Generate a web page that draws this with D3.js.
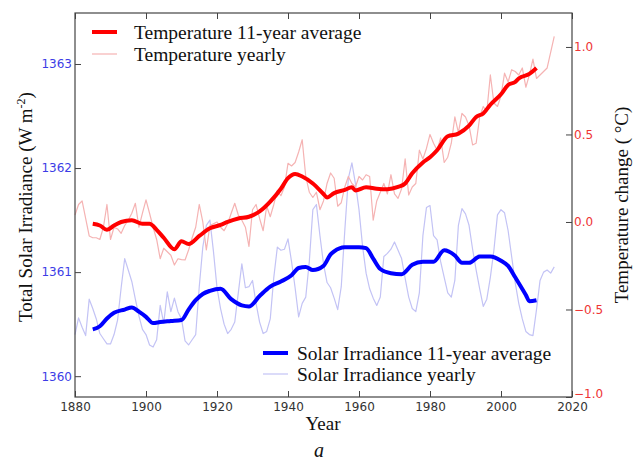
<!DOCTYPE html>
<html>
<head>
<meta charset="utf-8">
<script src="https://cdn.jsdelivr.net/npm/d3@7/dist/d3.min.js"></script>
<style>
  html, body { margin: 0; padding: 0; background: #fff; }
  svg { display: block; }
</style>
</head>
<body>
<svg id="chart" width="638" height="463"></svg>
<script>
// ---------------- DATA ----------------
const xTicks = [1880, 1900, 1920, 1940, 1960, 1980, 2000, 2020];
const leftTicks = [1360, 1361, 1362, 1363];
const rightTicks = [-1.0, -0.5, 0.0, 0.5, 1.0];

const yearlyStart = 1880; // yearly series run 1880..2015

const tempYearly = [
  0.04, 0.10, 0.12, 0.02, -0.08, -0.09, -0.09, -0.10, -0.03, 0.10,
  -0.10, -0.03, -0.04, -0.065, -0.02, 0.01, 0.05, 0.107, -0.03, 0.05,
  0.126, 0.05, -0.03, -0.10, -0.21, -0.15, -0.17, -0.19, -0.246, -0.21,
  -0.215, -0.217, -0.16, -0.09, -0.03, 0.10, 0.0, -0.16, -0.02, -0.01,
  0.0, -0.03, -0.05, -0.01, 0.05, 0.107, 0.04, 0.01, -0.03, -0.14,
  0.07, 0.10, 0.02, -0.05, 0.09, 0.03, 0.10, 0.18, 0.15, 0.20,
  0.335, 0.32, 0.34, 0.40, 0.47, 0.26, 0.17, 0.14, 0.17, 0.07,
  0.12, 0.22, 0.28, 0.25, 0.09, 0.11, 0.20, 0.26, 0.22, 0.20,
  0.26, 0.24, 0.27, 0.26, 0.01, 0.12, 0.17, 0.22, 0.16, 0.27,
  0.16, 0.135, 0.19, 0.36, 0.154, 0.20, 0.22, 0.41, 0.36, 0.42,
  0.50, 0.45, 0.41, 0.48, 0.34, 0.37, 0.45, 0.60, 0.51, 0.62,
  0.60, 0.55, 0.44, 0.45, 0.60, 0.66, 0.63, 0.84, 0.68, 0.66,
  0.72, 0.85, 0.80, 0.87, 0.86, 0.84, 0.88, 0.77, 0.84, 0.93,
  0.82, 0.84, 0.86, 0.88, 0.97, 1.06
];

const solarYearly = [
  1360.40, 1360.56, 1360.47, 1360.39, 1360.74, 1360.65, 1360.55, 1360.41, 1360.36, 1360.31,
  1360.31, 1360.40, 1360.54, 1360.85, 1361.13, 1361.02, 1360.91, 1360.74, 1360.58, 1360.45,
  1360.40, 1360.30, 1360.28, 1360.35, 1360.68, 1360.51, 1360.81, 1360.62, 1360.75, 1360.62,
  1360.55, 1360.34, 1360.30, 1360.35, 1360.40, 1360.86, 1361.24, 1361.45, 1361.50, 1361.20,
  1360.85, 1360.65, 1360.50, 1360.41, 1360.45, 1360.52, 1360.80, 1361.08, 1360.85, 1360.86,
  1360.92, 1360.70, 1360.52, 1360.41, 1360.43, 1360.55, 1360.95, 1361.24, 1361.21, 1361.22,
  1361.32, 1361.10, 1360.85, 1360.57, 1360.70, 1360.76, 1361.10, 1361.60, 1361.65, 1361.35,
  1361.08, 1360.90, 1360.85, 1360.75, 1360.64, 1360.86, 1361.40, 1361.90, 1362.05, 1361.85,
  1361.60, 1361.25, 1360.99, 1360.84, 1360.75, 1360.68, 1360.76, 1361.15, 1361.18, 1361.22,
  1361.29, 1361.21, 1361.13, 1360.94, 1360.76, 1360.65, 1360.62, 1360.80, 1361.35, 1361.62,
  1361.64, 1361.35, 1361.31, 1361.10, 1360.95, 1360.80, 1360.76, 1360.92, 1361.45, 1361.61,
  1361.56, 1361.45, 1361.22, 1361.02, 1360.84, 1360.67, 1360.74, 1360.95, 1361.21, 1361.55,
  1361.60, 1361.57, 1361.40, 1361.15, 1360.90, 1360.70, 1360.55, 1360.43, 1360.40, 1360.39,
  1360.64, 1360.92, 1361.00, 1361.02, 1360.99, 1361.05
];

const tempAvgYears = [1885, 1887, 1889, 1891, 1893, 1896, 1899, 1901, 1903, 1905, 1908, 1910, 1912, 1915, 1918,
  1921, 1923, 1926, 1929, 1932, 1935, 1938, 1940, 1942, 1944, 1947, 1950, 1951, 1953, 1956, 1958, 1959,
  1962, 1965, 1968, 1971, 1973, 1975, 1978, 1980, 1982, 1985, 1988, 1991, 1993, 1995, 1997, 2000, 2002,
  2004, 2005, 2008, 2010];
const tempAvg = [-0.01, -0.02, -0.045, -0.02, 0.0, 0.01, -0.01, -0.01, -0.045, -0.09, -0.156, -0.11, -0.126, -0.08, -0.036,
  -0.017, 0.0, 0.02, 0.03, 0.06, 0.116, 0.19, 0.25, 0.274, 0.26, 0.22, 0.16, 0.14, 0.165, 0.183, 0.198, 0.18,
  0.198, 0.19, 0.187, 0.20, 0.22, 0.278, 0.34, 0.37, 0.41, 0.49, 0.505, 0.55, 0.60, 0.62, 0.67, 0.73, 0.783,
  0.80, 0.82, 0.846, 0.88];

const solarAvgYears = [1885, 1887, 1889, 1891, 1894, 1896, 1898, 1900, 1902, 1904, 1907, 1910, 1912, 1914, 1916,
  1918, 1921, 1924, 1927, 1929, 1932, 1935, 1938, 1941, 1943, 1945, 1947, 1950, 1952, 1953, 1956, 1960,
  1962, 1964, 1966, 1969, 1972, 1975, 1978, 1981, 1984, 1987, 1989, 1991, 1994, 1997, 2000, 2002, 2004,
  2007, 2008, 2010];
const solarAvg = [1360.45, 1360.48, 1360.555, 1360.61, 1360.64, 1360.66, 1360.62, 1360.57, 1360.51, 1360.52, 1360.53, 1360.54, 1360.64, 1360.73, 1360.79,
  1360.82, 1360.84, 1360.74, 1360.68, 1360.67, 1360.77, 1360.86, 1360.91, 1360.97, 1361.04, 1361.05, 1361.02, 1361.06, 1361.17, 1361.20, 1361.24, 1361.24,
  1361.23, 1361.13, 1361.03, 1360.99, 1360.98, 1361.07, 1361.10, 1361.10, 1361.21, 1361.16, 1361.09, 1361.09, 1361.15, 1361.15, 1361.11, 1361.06, 1360.95,
  1360.78, 1360.72, 1360.73];

// ---------------- CHART ----------------
const svg = d3.select("#chart");
const L = 75, R = 572, T = 13, B = 397;

const x = d3.scaleLinear().domain([1880, 2020]).range([L, R]);
const yL = d3.scaleLinear().domain([1359.8, 1363.49]).range([B, T]);
const yR = d3.scaleLinear().domain([-1.0, 1.194]).range([B, T]);

const RED = "#ff0000", BLUE = "#0000ff";
const PINK = "#f5b3b3", LBLUE = "#c3c3f5";

const yearly = (arr) => arr.map((v, i) => [yearlyStart + i, v]);
const paired = (ys, vs) => ys.map((yr, i) => [yr, vs[i]]);

const lineL = d3.line().x(d => x(d[0])).y(d => yL(d[1]));
const lineR = d3.line().x(d => x(d[0])).y(d => yR(d[1]));
const lineLs = d3.line().x(d => x(d[0])).y(d => yL(d[1])).curve(d3.curveMonotoneX);
const lineRs = d3.line().x(d => x(d[0])).y(d => yR(d[1])).curve(d3.curveMonotoneX);

const plot = svg.append("g");
plot.append("path").datum(yearly(solarYearly)).attr("d", lineL)
  .attr("fill", "none").attr("stroke", LBLUE).attr("stroke-width", 1.2).attr("stroke-linejoin", "round");
plot.append("path").datum(paired(solarAvgYears, solarAvg)).attr("d", lineLs)
  .attr("fill", "none").attr("stroke", BLUE).attr("stroke-width", 4).attr("stroke-linejoin", "round");
plot.append("path").datum(yearly(tempYearly)).attr("d", lineR)
  .attr("fill", "none").attr("stroke", PINK).attr("stroke-width", 1.2).attr("stroke-linejoin", "round");
plot.append("path").datum(paired(tempAvgYears, tempAvg)).attr("d", lineRs)
  .attr("fill", "none").attr("stroke", RED).attr("stroke-width", 4).attr("stroke-linejoin", "round");

// Axes
const tickFont = "DejaVu Sans, sans-serif";
function styleAxis(g, color) {
  g.select(".domain").remove();
  g.selectAll(".tick line").attr("stroke", "#444").attr("stroke-width", 1);
  g.selectAll(".tick text").attr("fill", color).style("font-family", tickFont).style("font-size", "12px");
}

const gL = svg.append("g").attr("transform", `translate(${L},0)`)
  .call(d3.axisLeft(yL).tickValues(leftTicks).tickSize(-6).tickPadding(3).tickFormat(d3.format("d")));
styleAxis(gL, "#3c3ce6");

const gR = svg.append("g").attr("transform", `translate(${R},0)`)
  .call(d3.axisRight(yR).tickValues(rightTicks).tickSize(-6).tickPadding(2).tickFormat(d3.format(".1f")));
styleAxis(gR, "#ee3535");
// the bottom label sits just above the x-axis "2020" label, as in the original
gR.selectAll(".tick text").filter(d => d === -1.0).attr("y", -3);

const gB = svg.append("g").attr("transform", `translate(0,${B})`)
  .call(d3.axisBottom(x).tickValues(xTicks).tickSize(-6).tickPadding(5).tickFormat(d3.format("d")));
styleAxis(gB, "#333");

const gT = svg.append("g").attr("transform", `translate(0,${T})`)
  .call(d3.axisTop(x).tickValues(xTicks).tickSize(-6).tickFormat(""));
styleAxis(gT, "#333");

// Frame
svg.append("rect").attr("x", L).attr("y", T).attr("width", R - L).attr("height", B - T)
  .attr("fill", "none").attr("stroke", "#444").attr("stroke-width", 1.2);

// Axis labels
const serif = "Liberation Serif, Times New Roman, serif";
svg.append("text").attr("x", 323).attr("y", 430).attr("text-anchor", "middle")
  .style("font-family", serif).style("font-size", "19px").attr("fill", "#111").text("Year");

const ylab = svg.append("text").attr("transform", "translate(32,207) rotate(-90)").attr("text-anchor", "middle")
  .style("font-family", serif).style("font-size", "19px").attr("fill", "#111");
ylab.append("tspan").text("Total Solar Irradiance (W m");
ylab.append("tspan").attr("dy", -7).style("font-size", "12px").text("-2");
ylab.append("tspan").attr("dy", 7).text(")");

svg.append("text").attr("transform", "translate(628,205) rotate(-90)").attr("text-anchor", "middle")
  .style("font-family", serif).style("font-size", "19px").attr("fill", "#111").text("Temperature change ( °C)");

// Legends
const legTop = [
  { label: "Temperature 11-year average", color: RED, w: 4, y: 32 },
  { label: "Temperature yearly", color: PINK, w: 1.2, y: 54 }
];
const legBot = [
  { label: "Solar Irradiance 11-year average", color: BLUE, w: 4, y: 353 },
  { label: "Solar Irradiance yearly", color: LBLUE, w: 1.2, y: 374 }
];
function drawLegend(items, x0, x1, tx) {
  const g = svg.append("g");
  items.forEach(it => {
    g.append("line").attr("x1", x0).attr("x2", x1).attr("y1", it.y).attr("y2", it.y)
      .attr("stroke", it.color).attr("stroke-width", it.w);
    g.append("text").attr("x", tx).attr("y", it.y + 7).style("font-family", serif)
      .style("font-size", "19.5px").attr("fill", "#111").text(it.label);
  });
}
drawLegend(legTop, 92, 117, 134);
drawLegend(legBot, 263, 288, 297);

// Caption
svg.append("text").attr("x", 319).attr("y", 457).attr("text-anchor", "middle")
  .style("font-family", serif).style("font-style", "italic").style("font-size", "20px").attr("fill", "#111").text("a");
</script>
</body>
</html>
